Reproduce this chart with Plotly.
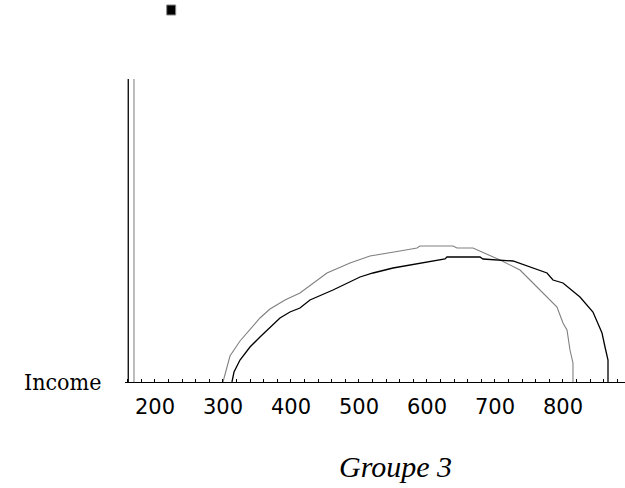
import plotly.graph_objects as go

# Series 1 (gray curve)
gray_x = [300, 304.4, 310.3, 325, 339.7, 354.4, 369.1, 391.2, 413.2, 452.9, 486.8, 516.2,
          560.3, 585.3, 589.7, 638.2, 644.1, 667.6, 707.4, 736.8, 755.9, 776.5, 791.2,
          800, 805.9, 810.3, 814.7, 814.7]
gray_y = [0, 12, 26, 41, 53, 64, 73, 82, 89, 109, 119, 126,
          131, 134, 136, 136, 134, 134, 122, 112, 99, 85, 75,
          59, 52, 32, 19, 0]

# Series 2 (black curve)
black_x = [313.2, 316.2, 325, 339.7, 354.4, 369.1, 383.8, 398.5, 413.2, 427.9, 461.8,
           501.5, 520.6, 550, 600, 626.5, 629.4, 677.9, 682.4, 726.5, 776.5, 785.3,
           800, 825, 844.1, 857.4, 861.8, 866.2, 866.2]
black_y = [0, 10, 22, 35, 45, 55, 64, 70, 74, 82, 92,
           105, 109, 114, 120, 123, 125, 125, 123, 121, 109, 102,
           99, 85, 70, 49, 35, 22, 0]

# Vertical segments at left
black_vx = [160.7, 160.7]
gray_vx = [169.1, 169.1]
vert_y = [0, 303]

tick_vals = list(range(160, 900, 20))
tick_text = [str(v) if v % 100 == 0 else "" for v in tick_vals]

fig = go.Figure()
fig.add_trace(go.Scatter(x=black_vx, y=vert_y, mode="lines",
                         line=dict(color="#000000", width=1.3), showlegend=False))
fig.add_trace(go.Scatter(x=gray_vx, y=vert_y, mode="lines",
                         line=dict(color="#999999", width=1.3), showlegend=False))
fig.add_trace(go.Scatter(x=gray_x, y=gray_y, mode="lines",
                         line=dict(color="#808080", width=1.1), showlegend=False))
fig.add_trace(go.Scatter(x=black_x, y=black_y, mode="lines",
                         line=dict(color="#000000", width=1.3), showlegend=False))

fig.update_layout(
    width=625, height=488,
    margin=dict(l=125, r=0, t=69, b=106),
    paper_bgcolor="white", plot_bgcolor="white",
    showlegend=False,
    xaxis=dict(range=[155.9, 891.2], showgrid=False, zeroline=False,
               showline=True, linecolor="black", linewidth=1,
               ticks="inside", ticklen=3, tickcolor="black", tickwidth=1,
               tickvals=tick_vals, ticktext=tick_text, ticklabelstandoff=6,
               tickfont=dict(family="DejaVu Sans", size=21, color="black")),
    yaxis=dict(range=[0, 313], showgrid=False, zeroline=False, showline=False,
               showticklabels=False, ticks=""),
    annotations=[
        dict(text="Income", xref="paper", yref="paper", x=0, y=0,
             xanchor="right", yanchor="middle", xshift=-22, showarrow=False,
             font=dict(family="DejaVu Serif Condensed, DejaVu Serif", size=23, color="black")),
        dict(text="<i>Groupe 3</i>", xref="paper", yref="paper", x=0.54, y=-0.27,
             xanchor="center", yanchor="middle", showarrow=False,
             font=dict(family="Liberation Serif", size=30, color="black")),
    ],
    shapes=[
        dict(type="rect", xref="paper", yref="paper", x0=0.0834, x1=0.1014,
             y0=1.1725, y1=1.2045, fillcolor="black", line=dict(color="#888888", width=1)),
    ],
)

fig.write_html("out.html", config={"displayModeBar": False},
               post_script="document.body.style.margin='0';document.body.style.overflow='hidden';")
